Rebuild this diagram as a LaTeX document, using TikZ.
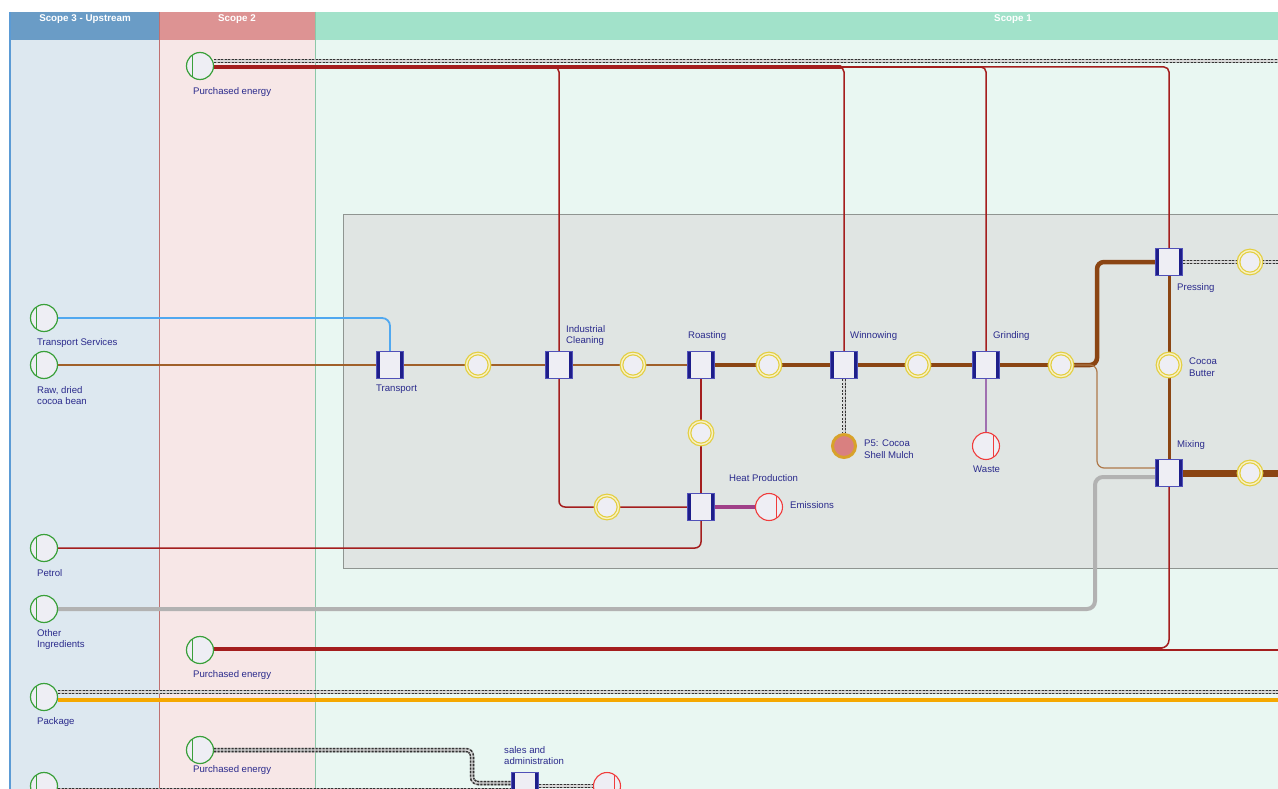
\documentclass[tikz,border=0pt]{standalone}
\usepackage{fontspec}
\setmainfont{Liberation Sans}
\usetikzlibrary{positioning}

\definecolor{s3head}{HTML}{6A9CC6}
\definecolor{s3body}{HTML}{DDE8F0}
\definecolor{s3edge}{HTML}{5B9BD5}
\definecolor{s2head}{HTML}{DD9393}
\definecolor{s2body}{HTML}{F7E7E7}
\definecolor{s2edge}{HTML}{C07070}
\definecolor{s1head}{HTML}{A2E2CA}
\definecolor{s1body}{HTML}{E9F7F2}
\definecolor{s1edge}{HTML}{8CC8A8}
\definecolor{boxfill}{HTML}{E0E5E3}
\definecolor{boxedge}{HTML}{8F9591}
\definecolor{navy}{HTML}{1E1E8A}
\definecolor{txtblue}{HTML}{2A2A8C}
\definecolor{procblue}{HTML}{5050B8}
\definecolor{nodefill}{HTML}{EEEEF4}
\definecolor{srcgreen}{HTML}{3AA03A}
\definecolor{sinkred}{HTML}{F03C3C}
\definecolor{flowyellow}{HTML}{E3CE3E}
\definecolor{prodfill}{HTML}{D98080}
\definecolor{prodring}{HTML}{D8A22A}
\definecolor{brownA}{HTML}{A0602A}
\definecolor{brownB}{HTML}{8B4513}
\definecolor{redA}{HTML}{A41E1E}
\definecolor{blueA}{HTML}{50A8F0}
\definecolor{purpleA}{HTML}{A04088}
\definecolor{purpleB}{HTML}{A070B0}
\definecolor{orangeA}{HTML}{F5A800}

\pgfdeclarelayer{back}
\pgfdeclarelayer{lines}
\pgfsetlayers{back,lines,main}

\tikzset{
  lbl/.style={font=\fontsize{9.6}{11.5}\selectfont, text=txtblue, inner sep=0pt, align=left, anchor=north west},
  head/.style={font=\fontsize{9.8}{11}\selectfont\bfseries, text=white, inner sep=0pt},
  src/.style={circle, draw=srcgreen, line width=1.2pt, fill=nodefill, minimum size=27pt, inner sep=0pt,
    path picture={\draw[srcgreen, line width=1.1pt] ([xshift=6pt]path picture bounding box.north west) -- ([xshift=6pt]path picture bounding box.south west);}},
  sink/.style={circle, draw=sinkred, line width=1.1pt, fill=nodefill, minimum size=27pt, inner sep=0pt,
    path picture={\draw[sinkred, line width=1.1pt] ([xshift=-6pt]path picture bounding box.north east) -- ([xshift=-6pt]path picture bounding box.south east);}},
  flow/.style={circle, draw=flowyellow, line width=1.2pt, double=white!70!flowyellow, double distance=1.4pt, fill=nodefill, minimum size=23pt, inner sep=0pt},
  prod/.style={circle, draw=prodring, line width=3pt, fill=prodfill, minimum size=23pt, inner sep=0pt},
  proc/.style={draw=procblue, line width=1.2pt, fill=nodefill, minimum size=27pt, inner sep=0pt,
    path picture={\fill[navy] (path picture bounding box.north west) rectangle ([xshift=3.5pt]path picture bounding box.south west);
      \fill[navy] ([xshift=-3.5pt]path picture bounding box.north east) rectangle (path picture bounding box.south east);}},
  brownthin/.style={draw=brownA, line width=2pt},
  brownfine/.style={draw=brownA!85, line width=1.2pt},
  brownmid/.style={draw=brownB, line width=3pt},
  brownthick/.style={draw=brownB, line width=4.5pt},
  brownfat/.style={draw=brownB, line width=7pt},
  redline/.style={draw=redA, line width=1.5pt},
  graythick/.style={draw=gray!60, line width=4pt},
  orangeline/.style={draw=orangeA, line width=4pt},
  blueline/.style={draw=blueA, line width=1.8pt},
  rail/.style={draw=gray!65, line width=4.5pt,
    postaction={draw=black!80, line width=4.5pt, dash pattern=on 2pt off 1.5pt},
    postaction={draw=gray!30, line width=1.3pt}},
}

\begin{document}
\begin{tikzpicture}[x=1pt,y=-1pt]
  \useasboundingbox (0,0) rectangle (1278,789);

  % scope columns
  \begin{pgfonlayer}{back}
    \fill[white] (0,0) rectangle (1278,789);
    \fill[s3body] (10,40) rectangle (159,789);
    \fill[s2body] (159,40) rectangle (315,789);
    \fill[s1body] (315,40) rectangle (1278,789);
    \fill[s3head] (10,12) rectangle (159,40);
    \fill[s2head] (159,12) rectangle (315,40);
    \fill[s1head] (315,12) rectangle (1278,40);
    \draw[s3edge, line width=1.5pt] (10,12) -- (10,789);
    \draw[s2edge, line width=1pt] (159,12) -- (159,789);
    \draw[s1edge, line width=1pt] (315,12) -- (315,789);
    \filldraw[fill=boxfill, draw=boxedge, line width=1pt] (343,215) rectangle (1290,568);
  \end{pgfonlayer}

  \node[head] (h3) at (85,19) {Scope 3 - Upstream};
  \node[head] (h2) at (237,19) {Scope 2};
  \node[head] (h1) at (1013,19) {Scope 1};

  % inputs
  \node[src] (energy1) at (200,66) {};
  \node[src] (tsvc) at (44,318) {};
  \node[src] (raw) at (44,365) {};
  \node[src] (petrol) at (44,548) {};
  \node[src] (other) at (44,609) {};
  \node[src] (energy2) at (200,650) {};
  \node[src] (package) at (44,697) {};
  \node[src] (energy3) at (200,750) {};
  \node[src] (bottom) at (44,786) {};

  \node[lbl] (l-energy1) at (193,87) {Purchased energy};
  \node[lbl] (l-tsvc) at (37,338) {Transport Services};
  \node[lbl] (l-raw) at (37,386) {Raw, dried\\cocoa bean};
  \node[lbl] (l-petrol) at (37,569) {Petrol};
  \node[lbl] (l-other) at (37,629) {Other\\Ingredients};
  \node[lbl] (l-energy2) at (193,670) {Purchased energy};
  \node[lbl] (l-package) at (37,717) {Package};
  \node[lbl] (l-energy3) at (193,765) {Purchased energy};

  % processes
  \node[proc] (transport) at (390,365) {};
  \node[proc] (icleaning) at (559,365) {};
  \node[proc] (roasting) at (701,365) {};
  \node[proc] (winnowing) at (844,365) {};
  \node[proc] (grinding) at (986,365) {};
  \node[proc] (pressing) at (1169,262) {};
  \node[proc] (mixing) at (1169,473) {};
  \node[proc] (heat) at (701,507) {};
  \node[proc] (sales) at (525,786) {};

  \node[lbl] (l-transport) at (376,385) {Transport};
  \node[lbl] (l-icleaning) at (566,325) {Industrial\\Cleaning};
  \node[lbl] (l-roasting) at (688,331) {Roasting};
  \node[lbl] (l-winnowing) at (850,331) {Winnowing};
  \node[lbl] (l-grinding) at (993,331) {Grinding};
  \node[lbl] (l-pressing) at (1177,283) {Pressing};
  \node[lbl] (l-mixing) at (1177,440) {Mixing};
  \node[lbl] (l-heat) at (729,474) {Heat Production};
  \node[lbl] (l-sales) at (504,746) {sales and\\administration};

  % flows
  \node[flow] (c1) at (478,365) {};
  \node[flow] (c2) at (633,365) {};
  \node[flow] (c3) at (769,365) {};
  \node[flow] (c4) at (918,365) {};
  \node[flow] (c5) at (1061,365) {};
  \node[flow] (cheat1) at (701,433) {};
  \node[flow] (cheat2) at (607,507) {};
  \node[flow] (cbutter) at (1169,365) {};
  \node[flow] (cpress) at (1250,262) {};
  \node[flow] (cmix) at (1250,473) {};
  \node[lbl] (l-cbutter) at (1189,358) {Cocoa\\Butter};

  % outputs
  \node[prod] (mulch) at (844,446) {};
  \node[sink] (waste) at (986,446) {};
  \node[sink] (emissions) at (769,507) {};
  \node[sink] (salesout) at (607,786) {};
  \node[lbl] (l-mulch) at (864,440) {P5: Cocoa\\Shell Mulch};
  \node[lbl] (l-waste) at (973,466) {Waste};
  \node[lbl] (l-emissions) at (790,501) {Emissions};

  \coordinate (topR) at (1278,61);
  \coordinate (pressR) at (1278,262);
  \coordinate (mixR) at (1278,473);
  \coordinate (energyR) at (1278,650);
  \coordinate (railR) at (1278,692);
  \coordinate (orangeR) at (1278,700);

  % connectors
  \begin{pgfonlayer}{lines}
    \draw[rail] ([yshift=5pt]energy1.east) -- (topR);
    \draw[redline, rounded corners=5] ([yshift=-1pt]energy1.east) -| (pressing);
    \draw[redline, rounded corners=5] ([yshift=-1pt]energy1.east) -| (grinding);
    \draw[redline, rounded corners=5] ([yshift=-1pt]energy1.east) -| (winnowing);
    \draw[redline, rounded corners=5] ([yshift=-1pt]energy1.east) -| (icleaning);
    \draw[redline, line width=2.5pt, line cap=round] ([yshift=-1pt]energy1.east) -- (982,67);
    \draw[redline, line width=4pt, line cap=round] ([yshift=-1pt]energy1.east) -- (840,67);

    \draw[blueline, rounded corners=8] (tsvc) -| (transport);
    \draw[brownthin] (raw) -- (transport) -- (c1) -- (icleaning) -- (c2) -- (roasting);
    \draw[brownthick] (roasting) -- (c3) -- (winnowing) -- (c4) -- (grinding) -- (c5);
    \draw[brownthick, rounded corners=7] (c5) -| (1097,300) |- (pressing);
    \draw[brownfine, rounded corners=7] (c5) -| (1097,420) |- ([yshift=5pt]mixing.west);
    \draw[brownmid] (pressing) -- (cbutter) -- (mixing);
    \draw[rail] (pressing) -- (cpress) -- (pressR);
    \draw[brownfat] (mixing) -- (cmix) -- (mixR);

    \draw[redline, line width=2pt] (roasting) -- (cheat1) -- (heat);
    \draw[redline, rounded corners=6] (icleaning) |- (cheat2) -- (heat);
    \draw[redline, rounded corners=6] (petrol) -| (heat);
    \draw[purpleA, line width=4pt] (heat) -- (emissions);
    \draw[rail, line width=3pt] (winnowing) -- (mulch);
    \draw[purpleB, line width=1.2pt] (grinding) -- (waste);

    \draw[graythick, rounded corners=8] (other) -- (1095,609) -- (1095,477) -- ([yshift=-4pt]mixing.west);
    \draw[redline] (energy2) -- (energyR);
    \draw[redline, rounded corners=8] ([yshift=2pt]energy2.east) -| (mixing);
    \draw[redline, line width=3pt, line cap=round] ([yshift=2pt]energy2.east) -- (1161,648);
    \draw[rail] ([yshift=5pt]package.east) -- (railR);
    \draw[orangeline] ([yshift=-3pt]package.east) -- (orangeR);

    \draw[rail, rounded corners=6] (energy3) -- (472,750) |- ([yshift=3pt]sales.west);
    \draw[rail] ([yshift=-4pt]bottom.east) -- ([yshift=-4pt]sales.west);
    \draw[rail] (sales) -- (salesout);
  \end{pgfonlayer}
\end{tikzpicture}
\end{document}
